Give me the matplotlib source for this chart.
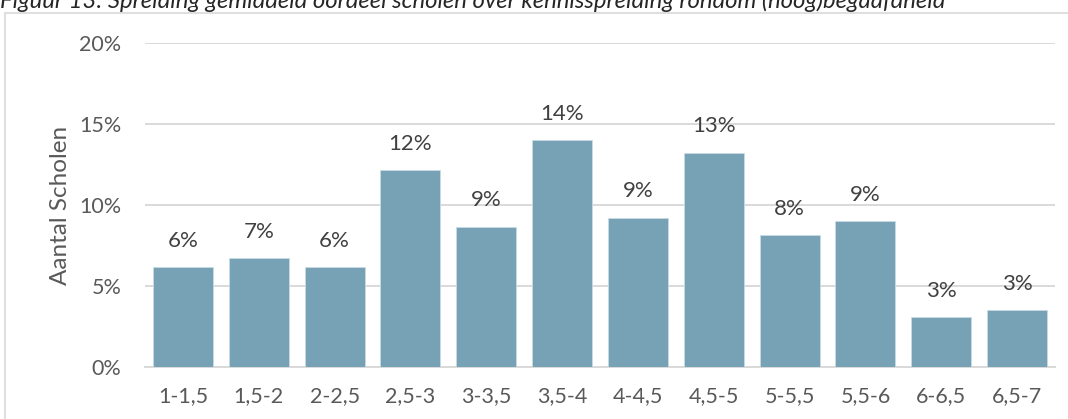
import matplotlib
matplotlib.use("Agg")
import matplotlib.pyplot as plt
from matplotlib.patches import Rectangle

categories = ["1-1,5", "1,5-2", "2-2,5", "2,5-3", "3-3,5", "3,5-4", "4-4,5",
              "4,5-5", "5-5,5", "5,5-6", "6-6,5", "6,5-7"]
values = [6.17, 6.71, 6.17, 12.14, 8.67, 13.99, 9.22, 13.23, 8.13, 8.99, 3.09, 3.52]
labels = ["6%", "7%", "6%", "12%", "9%", "14%", "9%", "13%", "8%", "9%", "3%", "3%"]
yticks = [0, 5, 10, 15, 20]
ytick_labels = ["0%", "5%", "10%", "15%", "20%"]
title = "Figuur 13: Spreiding gemiddeld oordeel scholen over kennisspreiding rondom (hoog)begaafdheid"

plt.rcParams['font.family'] = ['Lato', 'DejaVu Sans']

W, H = 1068, 419
fig = plt.figure(figsize=(W / 100, H / 100), dpi=100)

# outer chart frame
fig.patches.append(Rectangle((5 / W, -0.1), 1.2, 1 - 13 / H + 0.1, transform=fig.transFigure,
                             fill=False, edgecolor="#D9D9D9", linewidth=1.2))

# cut-off caption at top
fig.text(0.0, 1 - 1 / H, title, ha="left", va="center", fontsize=17.2, style="italic",
         color="#262626")

ax = fig.add_axes([145 / W, 1 - 367 / H, (1055 - 145) / W, (367 - 43) / H])
x = list(range(len(categories)))
ax.bar(x, values, width=0.79, color="#77A1B5", edgecolor="#C9DAE3", linewidth=0.6, zorder=3)
for xi, v, lab in zip(x, values, labels):
    ax.text(xi, v + 1.0, lab, ha="center", va="bottom", fontsize=16, color="#404040")

ax.set_xlim(-0.5, len(categories) - 0.5)
ax.set_ylim(0, 20)
ax.set_yticks(yticks)
ax.set_yticklabels(ytick_labels)
ax.set_xticks(x)
ax.set_xticklabels(categories)
ax.tick_params(axis="both", length=0, labelsize=15.5, colors="#595959")
ax.tick_params(axis="x", pad=14)
ax.tick_params(axis="y", pad=17)
ax.grid(axis="y", color="#D9D9D9", linewidth=1.4, zorder=0)
for s in ["top", "right", "left"]:
    ax.spines[s].set_visible(False)
ax.spines["bottom"].set_color("#D9D9D9")
ax.spines["bottom"].set_linewidth(1.4)
ax.set_ylabel("Aantal Scholen", fontsize=17.5, color="#595959")
ax.yaxis.set_label_coords((71 - 145) / (1055 - 145), (367 - 205) / (367 - 43))

fig.savefig("out.png", dpi=100)
